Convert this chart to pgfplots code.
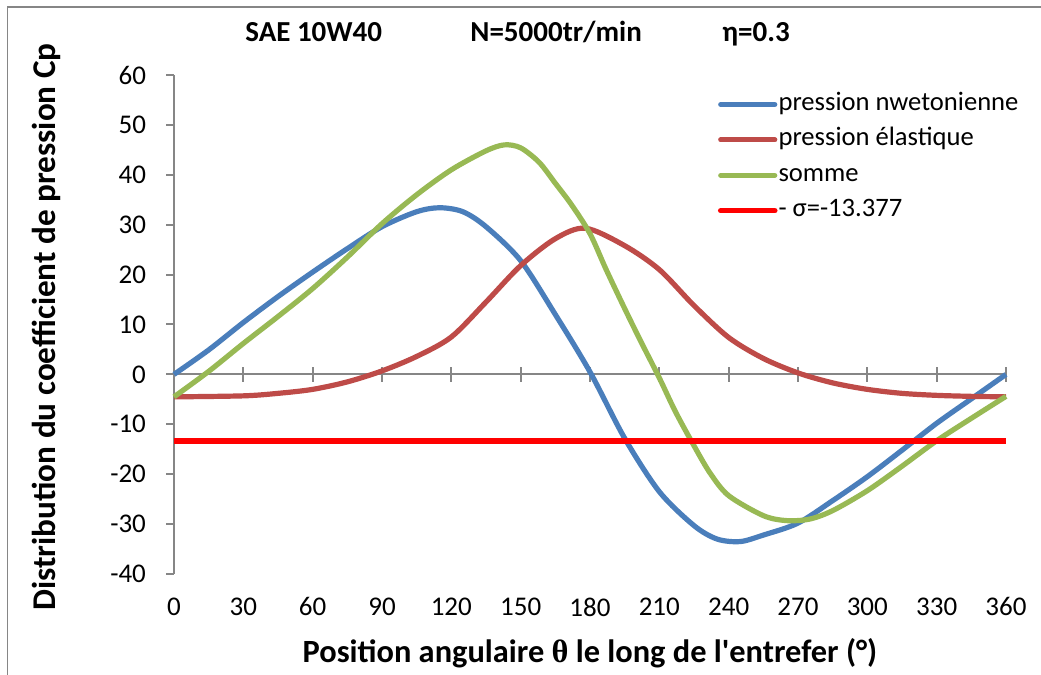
\documentclass[border=0pt]{standalone}
\usepackage{pgfplots}
\pgfplotsset{compat=1.18}
\usepackage{fontspec}
\setmainfont{Carlito}[Ligatures=TeXOff]
\newfontfamily\thetafont{Liberation Serif}
\definecolor{cblue}{RGB}{74,126,187}
\definecolor{cred}{RGB}{190,75,72}
\definecolor{cgreen}{RGB}{152,185,84}
\definecolor{axgray}{RGB}{134,134,134}
\begin{document}
\begin{tikzpicture}
\useasboundingbox (0,0) rectangle (520.5pt,337.5pt);
\draw[axgray, line width=0.75pt] (3.75pt,0) -- (3.75pt,334pt) -- (520.5pt,334pt);
\node[font=\fontsize{14.5}{17}\selectfont\bfseries, anchor=base west, inner sep=0pt] at (122.5pt,316.5pt) {SAE 10W40};
\node[font=\fontsize{14.5}{17}\selectfont\bfseries, anchor=base west, inner sep=0pt] at (235pt,316.5pt) {N=5000tr/min};
\node[font=\fontsize{14.5}{17}\selectfont\bfseries, anchor=base west, inner sep=0pt] at (361pt,316.5pt) {η=0.3};
\begin{axis}[
  at={(87pt,50.5pt)}, anchor=south west,
  width=416pt, height=249.5pt, scale only axis,
  xmin=0, xmax=360, ymin=-40, ymax=60,
  clip=false,
  axis x line=middle, axis y line=left,
  axis line style={-, draw=axgray, line width=1pt},
  hide obscured x ticks=false, hide obscured y ticks=false,
  xtick={0,30,...,360}, ytick={-40,-30,...,60},
  minor tick num=0,
  xtick align=center, ytick align=outside,
  major tick length=7.5pt,
  ytick style={/pgfplots/major tick length=3.75pt},
  tick style={draw=axgray, line width=1pt},
  /pgf/number format/assume math mode=true,
  ticklabel style={font=\fontsize{13.5}{15}\selectfont},
  xticklabel shift=104.3pt,
  yticklabel shift=3pt,
  xlabel={Position angulaire {\thetafont θ} le long de l'entrefer (°)},
  ylabel={Distribution du coefficient de pression Cp},
  every axis x label/.style={at={(axis description cs:0.5,-0.1764)}, anchor=base, font=\fontsize{16.2}{19}\selectfont\bfseries},
  every axis y label/.style={at={(axis description cs:-0.143,0.495)}, anchor=base, rotate=90, font=\fontsize{16.6}{19}\selectfont\bfseries},
  legend style={at={(0.6538,0.967)}, anchor=north west, draw=none, fill=none, inner sep=0pt, outer sep=0pt,
    font=\fontsize{13.3}{15}\selectfont, row sep=4.7pt,
    nodes={inner sep=0.5pt, text height=9pt, text depth=3pt},
    /tikz/every even column/.append style={column sep=0pt}},
  legend image code/.code={\draw[#1, line cap=round] (0pt,0pt) -- (27pt,0pt);},
  legend cell align=left,
]
\addplot[cblue, line width=2.6pt, smooth] coordinates {
(0,0) (15,4.9) (30,10.4) (45,15.6) (60,20.5) (75,25.2) (90,29.6) (105,32.6) (115,33.4) (125,32.6) (135,29.6) (150,22.8) (165,12.0) (180,0.5) (195,-12.8) (210,-23.5) (225,-30.3) (235,-33.0) (245,-33.5) (255,-32.2) (270,-29.8) (285,-25.3) (300,-20.5) (315,-15.2) (330,-9.8) (345,-4.9) (360,0)
};
\addlegendentry{pression nwetonienne}
\addplot[cred, line width=2.6pt, smooth] coordinates {
(0,-4.5) (30,-4.3) (45,-3.8) (60,-3.0) (75,-1.5) (90,0.7) (105,3.6) (120,7.5) (135,14.5) (150,21.8) (165,27.2) (178,29.3) (195,25.8) (210,21.0) (225,13.8) (240,7.4) (255,3.2) (270,0.3) (285,-1.7) (300,-3.0) (315,-3.8) (330,-4.2) (345,-4.4) (360,-4.5)
};
\addlegendentry{pression élastique}
\addplot[cgreen, line width=2.6pt, smooth] coordinates {
(0,-4.5) (15,0.6) (30,6.2) (45,11.6) (60,17.2) (75,23.5) (90,30.2) (105,36.0) (120,41.0) (135,44.8) (143,46.0) (150,45.4) (158,42.5) (165,38.3) (172,34.0) (180,28.2) (187,21.0) (195,13.2) (202,6.6) (210,-0.7) (217,-7.5) (225,-14.3) (232,-19.8) (240,-24.3) (255,-28.3) (265,-29.3) (275,-29.0) (285,-27.3) (300,-23.3) (315,-18.4) (330,-13.3) (345,-8.8) (360,-4.4)
};
\addlegendentry{somme}
\addplot[red, line width=2.8pt] coordinates {(0,-13.377) (360,-13.377)};
\addlegendentry{- σ=-13.377}
\end{axis}
\end{tikzpicture}
\end{document}
